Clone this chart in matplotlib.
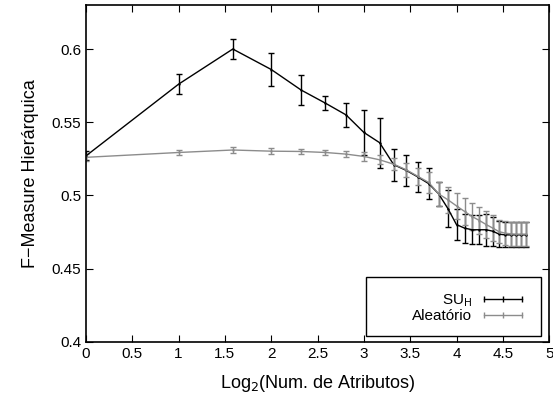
import matplotlib
matplotlib.use("Agg")
import matplotlib.pyplot as plt
from matplotlib.lines import Line2D
from matplotlib.patches import Rectangle
import numpy as np

plt.rcParams['font.family'] = ['Liberation Sans', 'DejaVu Sans']

# number of attributes 1..27, plotted on log2 scale
n_attr = np.arange(1, 28)

su_h = [0.527, 0.576, 0.600, 0.586, 0.572, 0.563, 0.555, 0.543, 0.536,
        0.521, 0.517, 0.5125, 0.508, 0.501, 0.491, 0.480, 0.4776, 0.4765,
        0.4765, 0.4765, 0.4755, 0.4735, 0.473, 0.473, 0.473, 0.473, 0.473]
su_h_err = [0.003, 0.007, 0.007, 0.011, 0.0105, 0.005, 0.008, 0.0155, 0.017,
            0.011, 0.0106, 0.010, 0.0106, 0.008, 0.0125, 0.0105, 0.010, 0.010,
            0.010, 0.011, 0.010, 0.009, 0.0085, 0.0085, 0.0085, 0.0085, 0.0085]

aleat = [0.526, 0.5293, 0.531, 0.5302, 0.530, 0.5293, 0.5282, 0.5266, 0.5243,
         0.5213, 0.5174, 0.5129, 0.5088, 0.501, 0.497, 0.4928, 0.489, 0.4855,
         0.4828, 0.480, 0.4776, 0.4752, 0.4742, 0.4737, 0.4735, 0.4735, 0.4735]
aleat_err = [0.0025, 0.0015, 0.002, 0.002, 0.002, 0.002, 0.002, 0.003, 0.003,
             0.004, 0.005, 0.006, 0.007, 0.008, 0.009, 0.009, 0.009, 0.009,
             0.009, 0.009, 0.009, 0.008, 0.008, 0.008, 0.008, 0.008, 0.008]

xticks = np.arange(0, 5.01, 0.5)
xtick_labels = ['0', '0.5', '1', '1.5', '2', '2.5', '3', '3.5', '4', '4.5', '5']
yticks = [0.4, 0.45, 0.5, 0.55, 0.6]
ytick_labels = ['0.4', '0.45', '0.5', '0.55', '0.6']

x = np.log2(n_attr)
c_su = 'black'
c_al = '#8c8c8c'

fig = plt.figure(figsize=(5.53, 3.94), dpi=100)
ax = fig.add_axes([0.1555, 0.1327, 0.8375, 0.8543])

ax.errorbar(x, su_h, yerr=su_h_err, color=c_su, lw=1, elinewidth=1,
            capsize=2.2, capthick=1, marker='+', ms=2, mew=1)
ax.errorbar(x, aleat, yerr=aleat_err, color=c_al, lw=1, elinewidth=1,
            capsize=2.2, capthick=1, marker='+', ms=2, mew=1)

ax.set_xlim(0, 5)
ax.set_ylim(0.4, 0.63)
ax.set_xticks(xticks)
ax.set_xticklabels(xtick_labels)
ax.set_yticks(yticks)
ax.set_yticklabels(ytick_labels)
ax.tick_params(direction='in', top=True, right=True, length=5, labelsize=11,
               width=0.8)
for sp in ax.spines.values():
    sp.set_linewidth(1.2)

ax.set_xlabel('Log$_2$(Num. de Atributos)', fontsize=13, labelpad=9)
ax.set_ylabel('F\u2212Measure Hierárquica', fontsize=13, labelpad=9)

# legend box (gnuplot style)
ax.add_patch(Rectangle((0.605, 0.018), 0.378, 0.175, transform=ax.transAxes,
                       fill=True, facecolor='white', edgecolor='black',
                       lw=1.0, zorder=5))
handles = [Line2D([], [], color=c_su, lw=1, marker='|', ms=5, mew=1),
           Line2D([], [], color=c_al, lw=1, marker='|', ms=5, mew=1)]
leg = ax.legend(handles, ['SU$_\\mathrm{H}$', 'Aleatório'],
                loc='upper right', bbox_to_anchor=(0.975, 0.178),
                markerfirst=False, fontsize=11, frameon=False, numpoints=3,
                handlelength=3.1, handletextpad=0.5, labelspacing=0.0,
                borderpad=0.2)
leg.set_zorder(6)
for t in leg.get_texts():
    t.set_ha('right')

fig.savefig('out.png', dpi=100)
